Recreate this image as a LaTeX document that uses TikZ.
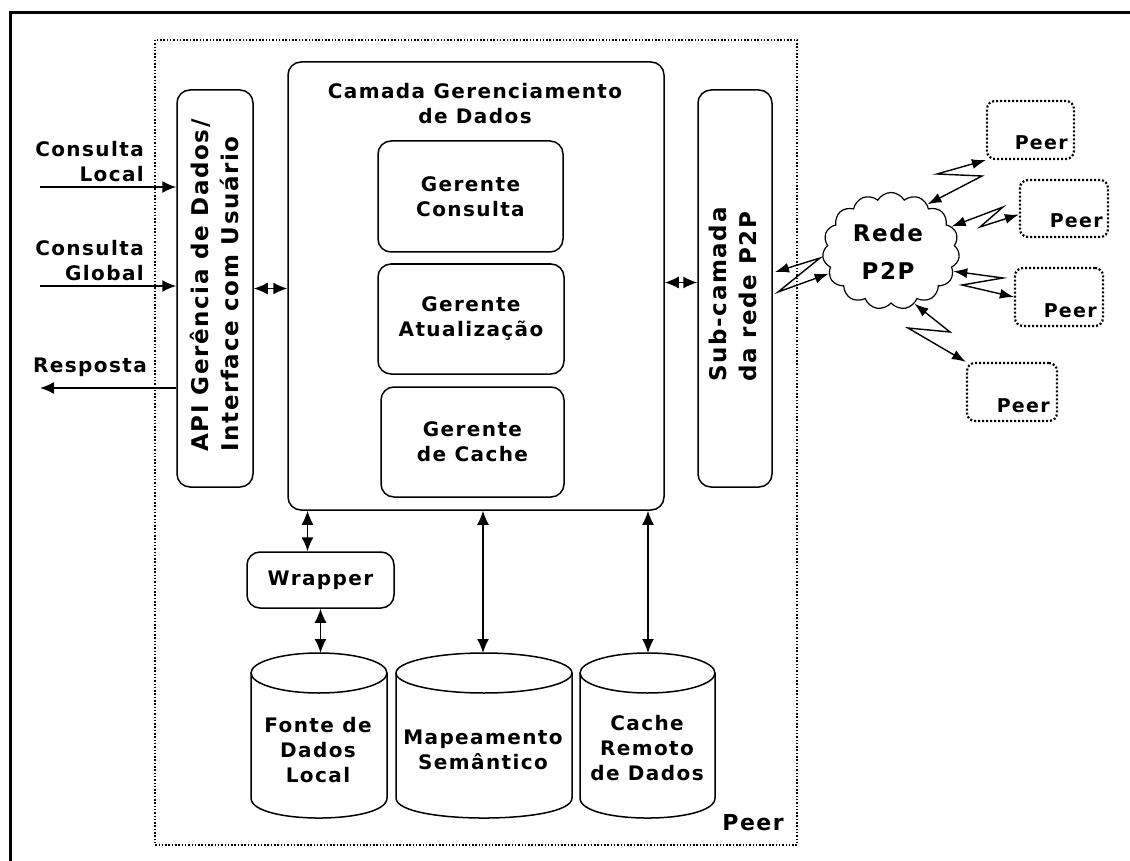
\documentclass[tikz,border=0pt]{standalone}
\usepackage{fontspec}
\setmainfont{DejaVu Sans}[LetterSpace=7]
\usetikzlibrary{shapes.symbols,arrows.meta}

\begin{document}
\begin{tikzpicture}[x=1pt,y=-1pt,
  box/.style={draw, line width=1.5pt, rounded corners=13pt, inner sep=0pt},
  txt/.style={font=\fontsize{20}{25}\selectfont\bfseries, align=center, inner sep=0pt},
  vtxt/.style={font=\fontsize{23}{30}\selectfont\bfseries, align=left, inner sep=0pt, rotate=90},
  peertxt/.style={font=\fontsize{19}{24}\selectfont\bfseries, inner sep=0pt, anchor=base east},
  peerbox/.style={draw, line width=2.2pt, dash pattern=on 2pt off 2pt, rounded corners=8pt, inner sep=0pt},
  region/.style={draw, line width=1.6pt, dash pattern=on 1.5pt off 1.8pt},
  link/.style={line width=1.5pt, {Latex[length=14pt,width=12pt]}-{Latex[length=14pt,width=12pt]}},
  feed/.style={line width=1.5pt, -{Latex[length=14pt,width=12pt]}},
  cyl/.style={draw, line width=1.5pt},
  bolt/.style={line width=1.4pt, {Latex[length=14pt,width=10pt]}-{Latex[length=14pt,width=10pt]}}
]
\useasboundingbox (0,0) rectangle (1130,861);

% outer frame (top and left edges)
\draw[line width=3pt] (1130,13) -- (10,13) -- (10,861);

% the peer region
\draw[region] (155,40) rectangle (797,845);
\node[font=\fontsize{22}{26}\selectfont\bfseries, inner sep=0pt, anchor=base east] (peerlbl) at (784,830) {Peer};

% interface layer
\node[box, minimum width=76pt, minimum height=397pt] (api) at (215,288.5) {};
\node[vtxt] (apitxt) at (214,285.5) {API Gerência de Dados/\\Interface com Usuário};

% data management layer
\node[box, minimum width=376pt, minimum height=448pt] (cam) at (476,286) {};
\node[txt] (camtxt) at (475,104) {Camada Gerenciamento\\de Dados};
\node[box, txt, minimum width=185pt, minimum height=111pt] (gq) at (470.5,196.5) {Gerente\\Consulta};
\node[box, txt, minimum width=186pt, minimum height=110pt] (ga) at (471,319) {Gerente\\Atualização};
\node[box, txt, minimum width=183pt, minimum height=110pt] (gc) at (472.5,442) {Gerente\\de Cache};

% P2P sub-layer
\node[box, minimum width=74pt, minimum height=397pt] (sub) at (735,288.5) {};
\node[vtxt] (subtxt) at (733,294.5) {Sub-camada\\da rede P2P};

% wrapper
\node[box, txt, minimum width=147pt, minimum height=56pt] (wrap) at (320.5,580) {Wrapper};

% storage cylinders
\draw[cyl] (251,673) -- (251,798) .. controls (251,824.7) and (387,824.7) .. (387,798) -- (387,673);
\draw[cyl] (319,673) ellipse [x radius=68, y radius=20];
\draw[cyl] (396,673) -- (396,798) .. controls (396,824.7) and (572,824.7) .. (572,798) -- (572,673);
\draw[cyl] (484,673) ellipse [x radius=88, y radius=20];
\draw[cyl] (580,673) -- (580,798) .. controls (580,824.7) and (715,824.7) .. (715,798) -- (715,673);
\draw[cyl] (647.5,673) ellipse [x radius=67.5, y radius=20];
\coordinate (fontetop) at (319,653);
\coordinate (mapatop) at (483,653);
\coordinate (cachetop) at (648,653);
\node[txt] (fonte) at (318,750.5) {Fonte de\\Dados\\Local};
\node[txt] (mapa) at (483,750) {Mapeamento\\Semântico};
\node[txt] (cache) at (647,748.5) {Cache\\Remoto\\de Dados};

% external inputs and output
\node[txt, align=right, anchor=south east] (cl) at (144,182) {Consulta\\Local};
\node[txt, align=right, anchor=south east] (cg) at (144,281) {Consulta\\Global};
\node[txt, anchor=base east] (resp) at (147,372) {Resposta};
\coordinate (inL) at (40,187);
\coordinate (inG) at (40,286);
\coordinate (outR) at (40,388);
\draw[feed] (inL) -- (inL -| api.west);
\draw[feed] (inG) -- (inG -| api.west);
\draw[feed] (outR -| api.west) -- (outR);

% links between layers
\draw[link] (api.east) -- (api.east -| cam.west);
\draw[link] ([yshift=6pt]sub.west -| cam.east) -- ([yshift=6pt]sub.west);
\draw[link] ([xshift=-13pt]wrap.north |- cam.south) -- ([xshift=-13pt]wrap.north);
\draw[link] (wrap.south) -- (wrap.south |- fontetop);
\draw[link] (mapatop |- cam.south) -- (mapatop);
\draw[link] (cachetop |- cam.south) -- (cachetop);

% P2P network and remote peers
\node[cloud, draw, line width=1.2pt, cloud puffs=15, cloud puff arc=120, aspect=1.17,
      minimum width=137pt, minimum height=117pt, inner sep=0pt] (net) at (891,251) {};
\node[font=\fontsize{23}{38}\selectfont\bfseries, align=center, inner sep=0pt] (nettxt) at (888,252) {Rede\\P2P};

\node[peerbox, minimum width=87pt, minimum height=58pt] (p1) at (1030.5,130) {};
\node[peertxt] (p1t) at (1068,150) {Peer};
\node[peerbox, minimum width=88pt, minimum height=57pt] (p2) at (1064,208.5) {};
\node[peertxt] (p2t) at (1103,228) {Peer};
\node[peerbox, minimum width=88pt, minimum height=58pt] (p3) at (1059,297) {};
\node[peertxt] (p3t) at (1097,317) {Peer};
\node[peerbox, minimum width=90pt, minimum height=58pt] (p4) at (1012,392) {};
\node[peertxt] (p4t) at (1050,412) {Peer};

% zigzag wireless links
\coordinate (subend) at (775,272);
\draw[bolt] (subend) -- (820,258) -- (778,292) -- (net.200);
\draw[bolt] (p1.south west) -- (937,174) -- (982,176) -- (net.52);
\draw[bolt] (net.22) -- (1003,207) -- (980,227) -- ([yshift=-6pt]p2.west);
\draw[bolt] (net.-18) -- (1003,278) -- (962,285) -- (p3.west);
\draw[bolt] (net.-66) -- (950,332) -- (908,328) -- (p4.north west);

\end{tikzpicture}
\end{document}
